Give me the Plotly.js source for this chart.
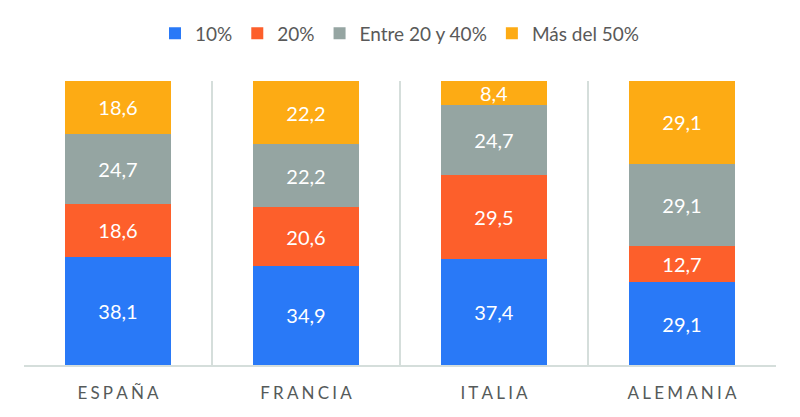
<!DOCTYPE html>
<html>
<head>
<meta charset="utf-8">
<script src="https://cdn.plot.ly/plotly-3.0.1.min.js"></script>
<style>
  html, body { margin: 0; padding: 0; background: #fff; }
  #chart { width: 800px; height: 417px; }
</style>
</head>
<body>
<div id="chart"></div>
<script>
var paises = ["ESPAÑA", "FRANCIA", "ITALIA", "ALEMANIA"];
var etiquetas = paises.map(function (p) { return p.split("").join("\u2009\u200a"); });

var serie10 = [38.1, 34.9, 37.4, 29.1];
var serie20 = [18.6, 20.6, 29.5, 12.7];
var serieEntre = [24.7, 22.2, 24.7, 29.1];
var serieMas = [18.6, 22.2, 8.4, 29.1];

var nombres = ["10%", "20%", "Entre 20 y 40%", "Más del 50%"];
var colores = ["#2979f7", "#fd5f2b", "#95a5a2", "#fdab14"];
var series = [serie10, serie20, serieEntre, serieMas];

var traces = series.map(function (vals, i) {
  return {
    x: paises,
    y: vals,
    name: nombres[i],
    type: "bar",
    marker: { color: colores[i] },
    texttemplate: "%{y:.1f}",
    textposition: "inside",
    insidetextanchor: "middle",
    constraintext: "none",
    textfont: { color: "#ffffff", size: 20 },
    hoverinfo: "none"
  };
});

var layout = {
  barmode: "stack",
  bargap: 0.44,
  separators: ",.",
  font: { family: "Lato, 'Open Sans', sans-serif", color: "#595959" },
  margin: { l: 24, r: 24, t: 81, b: 52 },
  paper_bgcolor: "#ffffff",
  plot_bgcolor: "#ffffff",
  showlegend: true,
  legend: {
    orientation: "h",
    x: 0.5,
    xanchor: "center",
    xref: "container",
    y: 0.92,
    yanchor: "middle",
    yref: "container",
    traceorder: "normal",
    font: { size: 19, color: "#595959" },
    itemwidth: 30
  },
  xaxis: {
    type: "category",
    tickmode: "array",
    tickvals: paises,
    ticktext: etiquetas,
    tickson: "boundaries",
    ticklen: 0,
    ticklabelstandoff: 12,
    showgrid: true,
    gridcolor: "#d5dedb",
    gridwidth: 2,
    showline: true,
    linecolor: "#d5dedb",
    linewidth: 2,
    range: [-0.5, 3.5],
    tickfont: { size: 17, color: "#555a5a" }
  },
  yaxis: {
    range: [0, 100],
    visible: false,
    showgrid: false,
    zeroline: false
  }
};

Plotly.newPlot("chart", traces, layout, { displayModeBar: false, staticPlot: true });
</script>
</body>
</html>
